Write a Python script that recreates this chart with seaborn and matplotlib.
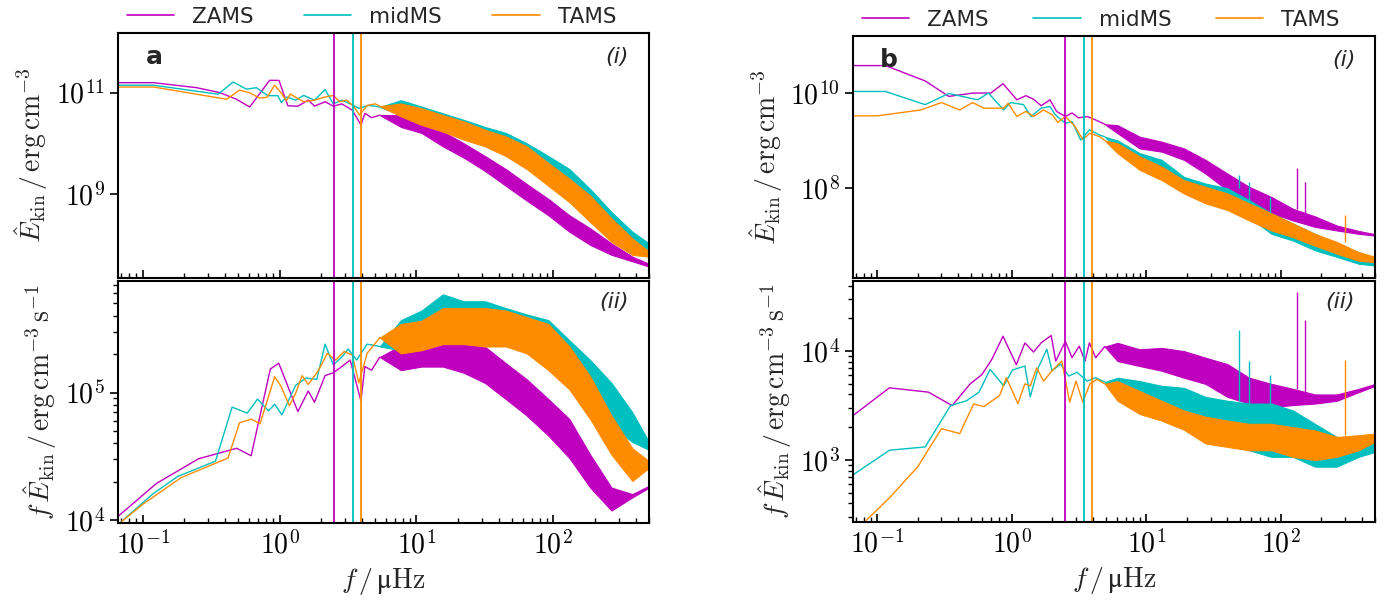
import matplotlib
matplotlib.use("Agg")
import math
import matplotlib.pyplot as plt
import seaborn as sns
import pandas as pd
from matplotlib.lines import Line2D
from matplotlib.ticker import LogLocator, FixedLocator, NullLocator, FuncFormatter, NullFormatter

# ---------------------------------------------------------------- data
stages = ["ZAMS", "midMS", "TAMS"]
colors = ["#bf00bf", "#00bfbf", "#ff8c00"]
vlines_f = [2.5, 3.45, 3.95]

# band frequencies (dense, noisy part of the spectra)
band_f_a = [5.4, 7.7, 10.9, 15.6, 22.2, 31.7, 45, 64, 92, 131, 186, 266, 378, 500]
band_f_b = [4.9, 6.1, 8.9, 13, 19, 27.5, 40, 58, 85, 123, 179, 260, 378, 500]

# ---- panel a (i): E_kin
a1_zams_f = [0.066, 0.12, 0.248, 0.366, 0.484, 0.605, 0.846, 0.99, 1.15, 1.36, 1.62, 1.8, 2.15, 2.47, 2.85, 3.4, 3.93, 4.2, 4.7, 5.4]
a1_zams_v = [1.57e11, 1.57e11, 1.25e11, 1.0e11, 7.4e10, 5.2e10, 1.75e11, 1.74e11, 5.5e10, 5.4e10, 7.1e10, 5.4e10, 6.6e10, 5.4e10, 6.0e10, 4.5e10, 2.3e10, 3.9e10, 3.2e10, 3.6e10]
a1_zams_lo = [3.6e10, 2.1e10, 1.6e10, 8.7e9, 5.2e9, 2.85e9, 1.45e9, 7.4e8, 3.8e8, 1.8e8, 9.9e7, 6.3e7, 4.7e7, 3.7e7]
a1_zams_hi = [3.6e10, 3.6e10, 2.7e10, 1.7e10, 1.0e10, 5.6e9, 3.1e9, 1.57e9, 8.0e8, 3.8e8, 2.1e8, 1.06e8, 5.8e7, 4.2e7]

a1_mid_f = [0.066, 0.12, 0.356, 0.458, 0.573, 0.677, 0.82, 0.97, 1.03, 1.13, 1.31, 1.5, 1.8, 2.15, 2.47, 2.85, 3.28, 3.8, 4.5, 5.4]
a1_mid_v = [1.4e11, 1.4e11, 9.3e10, 1.62e11, 1.17e11, 1.25e11, 8.7e10, 8.7e10, 6.4e10, 8.2e10, 7.1e10, 8.8e10, 7.1e10, 1.15e11, 6.0e10, 7.1e10, 6.0e10, 4.9e10, 5.6e10, 5.2e10]
a1_mid_lo = [5.2e10, 3.6e10, 2.5e10, 1.85e10, 1.37e10, 1.0e10, 7.0e9, 4.1e9, 2.3e9, 1.08e9, 4.4e8, 1.8e8, 9.9e7, 7.9e7]
a1_mid_hi = [5.2e10, 7.1e10, 5.3e10, 3.9e10, 2.9e10, 2.1e10, 1.6e10, 1.0e10, 5.6e9, 3.1e9, 1.25e9, 4.4e8, 1.8e8, 1.06e8]

a1_tams_f = [0.066, 0.12, 0.41, 0.51, 0.6, 0.715, 0.81, 0.92, 1.03, 1.12, 1.2, 1.3, 1.5, 1.8, 2.15, 2.47, 2.75, 3.1, 3.5, 3.84, 4.36, 5.0, 5.4]
a1_tams_v = [1.29e11, 1.29e11, 7.4e10, 1.12e11, 1.0e11, 7.8e10, 8.1e10, 1.4e11, 9.8e10, 6.9e10, 9.4e10, 8.2e10, 6.6e10, 7.1e10, 8.2e10, 8.8e10, 6.6e10, 7.1e10, 5.25e10, 3.6e10, 5.6e10, 6.0e10, 5.4e10]
a1_tams_lo = [5.4e10, 3.4e10, 2.3e10, 1.7e10, 1.18e10, 8.7e9, 5.6e9, 3.1e9, 1.45e9, 6.9e8, 2.8e8, 1.14e8, 6.3e7, 5.8e7]
a1_tams_hi = [5.4e10, 6.1e10, 4.9e10, 3.6e10, 2.7e10, 1.85e10, 1.37e10, 8.7e9, 4.1e9, 2.0e9, 9.3e8, 3.3e8, 1.33e8, 7.3e7]

# ---- panel a (ii): f * E_kin
a2_zams_f = [0.066, 0.126, 0.256, 0.486, 0.62, 0.856, 0.986, 1.36, 1.62, 1.8, 2.15, 2.47, 2.85, 3.28, 3.93, 4.2, 4.7, 5.4]
a2_zams_v = [1.07e4, 1.94e4, 3.03e4, 3.66e4, 3.2e4, 1.53e5, 1.7e5, 7.1e4, 1.03e5, 8.4e4, 1.36e5, 1.43e5, 1.6e5, 1.8e5, 8.6e4, 1.6e5, 1.5e5, 1.9e5]
a2_zams_lo = [1.9e5, 1.5e5, 1.6e5, 1.6e5, 1.43e5, 1.19e5, 8.9e4, 6.6e4, 4.6e4, 3.07e4, 1.8e4, 1.19e4, 1.51e4, 1.8e4]
a2_zams_hi = [1.9e5, 2.35e5, 2.57e5, 2.9e5, 2.8e5, 2.29e5, 1.7e5, 1.27e5, 8.9e4, 6.2e4, 3.26e4, 1.8e4, 1.6e4, 1.86e4]

a2_mid_f = [0.068, 0.118, 0.18, 0.34, 0.45, 0.58, 0.69, 0.83, 0.92, 1.04, 1.31, 1.56, 1.87, 2.15, 2.47, 2.85, 3.17, 3.66, 4.36, 5.4]
a2_mid_v = [9.5e3, 1.6e4, 2.2e4, 2.9e4, 7.7e4, 6.9e4, 8.9e4, 7.2e4, 8.1e4, 6.7e4, 1.14e5, 1.3e5, 1.27e5, 2.4e5, 1.65e5, 1.9e5, 2.2e5, 1.8e5, 2.4e5, 2.3e5]
a2_mid_lo = [2.3e5, 2.15e5, 2.3e5, 2.7e5, 2.9e5, 2.7e5, 2.57e5, 2.3e5, 1.8e5, 1.27e5, 8.4e4, 5.5e4, 4.1e4, 3.56e4]
a2_mid_hi = [2.3e5, 3.7e5, 4.4e5, 5.9e5, 5.2e5, 5.2e5, 4.6e5, 4.1e5, 3.7e5, 2.57e5, 1.8e5, 1.19e5, 7.0e4, 4.1e4]

a2_tams_f = [0.064, 0.1, 0.19, 0.42, 0.51, 0.62, 0.72, 0.92, 1.02, 1.18, 1.31, 1.46, 1.62, 1.93, 2.23, 2.57, 2.96, 3.4, 3.79, 4.36, 5.4]
a2_tams_v = [9.0e3, 1.33e4, 2.15e4, 3.07e4, 5.8e4, 6.2e4, 5.7e4, 1.33e5, 1.13e5, 7.9e4, 9.9e4, 1.36e5, 1.16e5, 1.5e5, 2.03e5, 1.8e5, 2.1e5, 1.97e5, 1.19e5, 2.03e5, 2.7e5]
a2_tams_lo = [2.7e5, 2.03e5, 2.15e5, 2.4e5, 2.4e5, 2.3e5, 2.3e5, 2.03e5, 1.5e5, 1.06e5, 6.2e4, 3.26e4, 2.03e4, 2.57e4]
a2_tams_hi = [2.7e5, 3.45e5, 3.66e5, 4.6e5, 4.6e5, 4.6e5, 4.4e5, 3.9e5, 3.45e5, 2.3e5, 1.34e5, 6.6e4, 3.66e4, 2.9e4]

# ---- panel b (i): E_kin
b1_zams_f = [0.066, 0.115, 0.227, 0.34, 0.517, 0.698, 0.86, 1.09, 1.27, 1.45, 1.65, 1.92, 2.15, 2.5, 2.8, 3.13, 3.63, 4.2, 4.9]
b1_zams_v = [3.8e10, 3.8e10, 1.8e10, 8.5e9, 1.0e10, 1.0e10, 1.58e10, 7.2e9, 8.8e9, 7.4e9, 5.4e9, 7.2e9, 4.1e9, 3.2e9, 3.8e9, 3.0e9, 3.2e9, 2.7e9, 2.2e9]
b1_zams_lo = [2.2e9, 1.42e9, 6.8e8, 5.8e8, 3.9e8, 2.0e8, 8.9e7, 4.7e7, 2.9e7, 2.05e7, 1.5e7, 1.26e7, 1.07e7, 9.8e6]
b1_zams_hi = [2.2e9, 2.1e9, 1.2e9, 9.4e8, 6.8e8, 3.9e8, 2.0e8, 1.05e8, 6.4e7, 3.6e7, 2.5e7, 1.6e7, 1.23e7, 1.05e7]

b1_mid_f = [0.066, 0.115, 0.227, 0.34, 0.557, 0.67, 0.87, 0.98, 1.22, 1.39, 1.65, 1.92, 2.1, 2.5, 2.8, 3.25, 3.77, 4.5, 4.9]
b1_mid_v = [1.08e10, 1.08e10, 5.7e9, 9.8e9, 7.2e9, 1.0e10, 4.4e9, 6.3e9, 5.7e9, 3.2e9, 4.8e9, 5.2e9, 3.5e9, 2.3e9, 2.5e9, 1.02e9, 1.67e9, 1.3e9, 1.2e9]
b1_mid_lo = [1.2e9, 6.3e8, 2.8e8, 2.0e8, 8.9e7, 5.5e7, 4.0e7, 2.4e7, 1.07e7, 7.7e6, 4.8e6, 3.5e6, 2.5e6, 2.3e6]
b1_mid_hi = [1.2e9, 1.0e9, 5.4e8, 3.9e8, 1.7e8, 1.23e8, 9.8e7, 5.5e7, 2.9e7, 1.76e7, 1.07e7, 6.6e6, 4.4e6, 3.2e6]

b1_tams_f = [0.066, 0.1, 0.21, 0.3, 0.41, 0.51, 0.62, 0.87, 0.94, 1.09, 1.27, 1.45, 1.72, 1.99, 2.2, 2.5, 2.9, 3.37, 3.8, 4.5, 4.9]
b1_tams_v = [3.3e9, 3.3e9, 4.4e9, 6.3e9, 4.4e9, 6.3e9, 4.8e9, 4.8e9, 6.1e9, 3.2e9, 4.1e9, 3.2e9, 4.4e9, 3.5e9, 2.4e9, 3.2e9, 2.1e9, 1.05e9, 1.42e9, 1.2e9, 1.0e9]
b1_tams_lo = [1.0e9, 5.4e8, 2.4e8, 1.45e8, 7.6e7, 4.7e7, 3.4e7, 2.05e7, 1.26e7, 9.1e6, 6.0e6, 4.1e6, 2.9e6, 2.7e6]
b1_tams_hi = [1.0e9, 8.7e8, 4.6e8, 2.8e8, 1.45e8, 1.05e8, 7.6e7, 4.7e7, 2.9e7, 1.76e7, 1.07e7, 7.2e6, 4.4e6, 3.5e6]

# ---- panel b (ii): f * E_kin
b2_zams_f = [0.066, 0.123, 0.24, 0.36, 0.49, 0.6, 0.71, 0.86, 1.08, 1.25, 1.45, 1.65, 1.96, 2.12, 2.5, 2.8, 3.17, 3.5, 3.77, 4.2, 4.9]
b2_zams_v = [2.56e3, 4.6e3, 4.2e3, 3.16e3, 5.0e3, 6.1e3, 8.4e3, 1.37e4, 7.5e3, 1.19e4, 9.8e3, 1.19e4, 1.39e4, 8.1e3, 1.23e4, 8.7e3, 1.11e4, 8.1e3, 1.19e4, 8.7e3, 1.1e4]
b2_zams_lo = [1.1e4, 8.1e3, 7.3e3, 6.6e3, 5.7e3, 5.0e3, 3.8e3, 3.3e3, 3.05e3, 3.2e3, 3.3e3, 3.5e3, 4.2e3, 4.8e3]
b2_zams_hi = [1.1e4, 1.19e4, 1.04e4, 1.07e4, 1.0e4, 8.7e3, 7.6e3, 5.7e3, 5.0e3, 4.5e3, 4.0e3, 4.0e3, 4.5e3, 5.0e3]

b2_mid_f = [0.066, 0.123, 0.227, 0.35, 0.46, 0.57, 0.69, 0.87, 1.01, 1.25, 1.37, 1.57, 1.82, 1.99, 2.3, 2.65, 3.05, 3.63, 4.2, 4.9]
b2_mid_v = [731, 1.23e3, 1.32e3, 3.16e3, 3.5e3, 4.2e3, 6.8e3, 4.8e3, 6.7e3, 7.3e3, 3.8e3, 7.0e3, 1.04e4, 6.6e3, 7.6e3, 5.9e3, 6.4e3, 5.3e3, 5.7e3, 5.2e3]
b2_mid_lo = [5.2e3, 3.8e3, 3.05e3, 2.85e3, 2.3e3, 1.63e3, 1.42e3, 1.23e3, 1.07e3, 1.07e3, 870, 870, 1.07e3, 1.19e3]
b2_mid_hi = [5.2e3, 5.7e3, 5.3e3, 4.8e3, 4.6e3, 3.8e3, 3.5e3, 3.3e3, 3.3e3, 2.85e3, 2.15e3, 1.63e3, 1.52e3, 1.42e3]

b2_tams_f = [0.066, 0.084, 0.123, 0.2, 0.3, 0.41, 0.52, 0.62, 0.81, 0.91, 1.11, 1.25, 1.37, 1.53, 1.72, 1.99, 2.35, 2.69, 3.0, 3.37, 3.8, 4.3, 4.9]
b2_tams_v = [210, 285, 449, 869, 1.94e3, 1.75e3, 3.27e3, 3.1e3, 3.9e3, 5.7e3, 3.3e3, 5.0e3, 4.8e3, 7.0e3, 5.3e3, 6.6e3, 8.1e3, 3.4e3, 5.3e3, 3.4e3, 5.0e3, 5.5e3, 5.0e3]
b2_tams_lo = [5.0e3, 3.5e3, 2.65e3, 2.3e3, 1.9e3, 1.42e3, 1.32e3, 1.23e3, 1.23e3, 1.07e3, 1.0e3, 1.07e3, 1.23e3, 1.47e3]
b2_tams_hi = [5.0e3, 5.3e3, 4.3e3, 3.5e3, 2.85e3, 2.5e3, 2.3e3, 2.15e3, 2.15e3, 2.0e3, 1.87e3, 1.63e3, 1.69e3, 1.75e3]

# narrow spikes in panel b (frequency, base, peak) per stage
b1_spike_f = [[131, 152], [49, 58, 83], [299]]
b1_spike_base = [[3.6e7, 2.5e7], [9.8e7, 5.5e7, 2.9e7], [7.2e6]]
b1_spike_peak = [[2.6e8, 1.34e8], [1.9e8, 1.35e8, 6.5e7], [2.7e7]]
b2_spike_f = [[131, 152], [49, 58, 83], [299]]
b2_spike_base = [[4.5e3, 4.0e3], [3.5e3, 3.3e3, 3.3e3], [1.7e3]]
b2_spike_peak = [[3.5e4, 1.94e4], [1.57e4, 8.1e3, 6.0e3], [8.2e3]]

ylims = {"a1": (2.2e7, 1.5e12), "a2": (9.5e3, 7.5e5), "b1": (1.25e6, 1.6e11), "b2": (270, 4.4e4)}
xlim = (0.066, 500)

# ---------------------------------------------------------------- style
sns.set_theme(style="ticks")
plt.rcParams.update({
    "font.family": ["DejaVu Sans"],
    "mathtext.fontset": "cm",
    "axes.linewidth": 1.5,
    "axes.edgecolor": "black",
    "xtick.color": "black",
    "ytick.color": "black",
})

fig = plt.figure(figsize=(13.9, 6.0), dpi=100)
W, H = 1390, 600


def add_ax(x0, x1, y0, y1):
    return fig.add_axes([x0 / W, 1 - y1 / H, (x1 - x0) / W, (y1 - y0) / H])


ax_a1 = add_ax(118, 649, 33, 278)
ax_a2 = add_ax(118, 649, 281, 523)
ax_b1 = add_ax(853, 1375, 36, 278)
ax_b2 = add_ax(853, 1375, 281, 522)

panels = {
    "a1": (ax_a1, band_f_a, [(a1_zams_f, a1_zams_v, a1_zams_lo, a1_zams_hi),
                             (a1_mid_f, a1_mid_v, a1_mid_lo, a1_mid_hi),
                             (a1_tams_f, a1_tams_v, a1_tams_lo, a1_tams_hi)]),
    "a2": (ax_a2, band_f_a, [(a2_zams_f, a2_zams_v, a2_zams_lo, a2_zams_hi),
                             (a2_mid_f, a2_mid_v, a2_mid_lo, a2_mid_hi),
                             (a2_tams_f, a2_tams_v, a2_tams_lo, a2_tams_hi)]),
    "b1": (ax_b1, band_f_b, [(b1_zams_f, b1_zams_v, b1_zams_lo, b1_zams_hi),
                             (b1_mid_f, b1_mid_v, b1_mid_lo, b1_mid_hi),
                             (b1_tams_f, b1_tams_v, b1_tams_lo, b1_tams_hi)]),
    "b2": (ax_b2, band_f_b, [(b2_zams_f, b2_zams_v, b2_zams_lo, b2_zams_hi),
                             (b2_mid_f, b2_mid_v, b2_mid_lo, b2_mid_hi),
                             (b2_tams_f, b2_tams_v, b2_tams_lo, b2_tams_hi)]),
}
spikes = {"b1": (b1_spike_f, b1_spike_base, b1_spike_peak),
          "b2": (b2_spike_f, b2_spike_base, b2_spike_peak)}

pow_fmt = FuncFormatter(lambda v, p: r"$10^{%d}$" % round(math.log10(v)) if v > 0 else "")

for key, (ax, bf, series) in panels.items():
    for i, (fl, vl, lo, hi) in enumerate(series):
        df = pd.DataFrame({"f": fl, "v": vl})
        sns.lineplot(data=df, x="f", y="v", ax=ax, color=colors[i], lw=1.0,
                     estimator=None, legend=False)
        ax.fill_between(bf, lo, hi, color=colors[i], lw=0.8, edgecolor=colors[i])
        if key in spikes:
            sf, sb, sp = spikes[key]
            ax.vlines(sf[i], sb[i], sp[i], color=colors[i], lw=1.0)
    for vf, c in zip(vlines_f, colors):
        ax.axvline(vf, color=c, lw=1.3)
    ax.set_xscale("log")
    ax.set_yscale("log")
    ax.set_xlim(*xlim)
    ax.set_ylim(*ylims[key])
    ax.set_xlabel("")
    ax.set_ylabel("")
    ax.xaxis.set_major_locator(LogLocator(base=10, numticks=12))
    ax.xaxis.set_minor_locator(LogLocator(base=10, subs=range(2, 10), numticks=12))
    ax.xaxis.set_minor_formatter(NullFormatter())
    ax.tick_params(axis="x", which="both", direction="in", bottom=True, top=False)
    ax.tick_params(axis="x", which="major", length=6, width=1.2, labelsize=20, pad=6)
    ax.tick_params(axis="x", which="minor", length=3.5, width=1.0)
    ax.tick_params(axis="y", which="both", direction="out", left=True, right=False)
    ax.tick_params(axis="y", which="major", length=6, width=1.2, labelsize=20)
    ax.tick_params(axis="y", which="minor", length=3.5, width=1.0)
    ax.yaxis.set_major_formatter(pow_fmt)
    ax.xaxis.set_major_formatter(pow_fmt)
    for s in ax.spines.values():
        s.set_visible(True)
        s.set_linewidth(1.5)

ax_a1.yaxis.set_major_locator(FixedLocator([1e9, 1e11]))
ax_b1.yaxis.set_major_locator(FixedLocator([1e8, 1e10]))
for ax in (ax_a1, ax_b1):
    ax.yaxis.set_minor_locator(NullLocator())
    ax.tick_params(axis="x", labelbottom=False)
for ax in (ax_a2, ax_b2):
    ax.yaxis.set_major_locator(LogLocator(base=10, numticks=12))
    ax.yaxis.set_minor_locator(LogLocator(base=10, subs=range(2, 10), numticks=12))
    ax.yaxis.set_minor_formatter(NullFormatter())
    ax.set_xlabel(r"$f\,/\,\mathrm{μHz}$", fontsize=20)

for ax in (ax_a1, ax_b1):
    ax.set_ylabel(r"$\hat{E}_{\rm kin}\,/\,{\rm erg\,cm^{-3}}$", fontsize=20)
for ax in (ax_a2, ax_b2):
    ax.set_ylabel(r"$f\,\hat{E}_{\rm kin}\,/\,{\rm erg\,cm^{-3}\,s^{-1}}$", fontsize=20)

ax_a1.text(0.053, 0.90, "a", transform=ax_a1.transAxes, fontsize=18, fontweight="bold", va="center", ha="left")
ax_b1.text(0.052, 0.90, "b", transform=ax_b1.transAxes, fontsize=18, fontweight="bold", va="center", ha="left")
for ax in (ax_a1, ax_b1):
    ax.text(0.962, 0.90, "(i)", transform=ax.transAxes, fontsize=16, style="italic", va="center", ha="right")
for ax in (ax_a2, ax_b2):
    ax.text(0.962, 0.913, "(ii)", transform=ax.transAxes, fontsize=16, style="italic", va="center", ha="right")

handles = [Line2D([0], [0], color=c, lw=1.2) for c in colors]
for ax, cs in ((ax_a1, 2.33), (ax_b1, 2.07)):
    ax.legend(handles, stages, loc="lower left", bbox_to_anchor=(0.004, 1.0), ncol=3, frameon=False,
              fontsize=15.5, handlelength=2.2, handletextpad=0.84, columnspacing=cs,
              borderpad=0.0, borderaxespad=0.3)

fig.savefig("out.png", dpi=100)
